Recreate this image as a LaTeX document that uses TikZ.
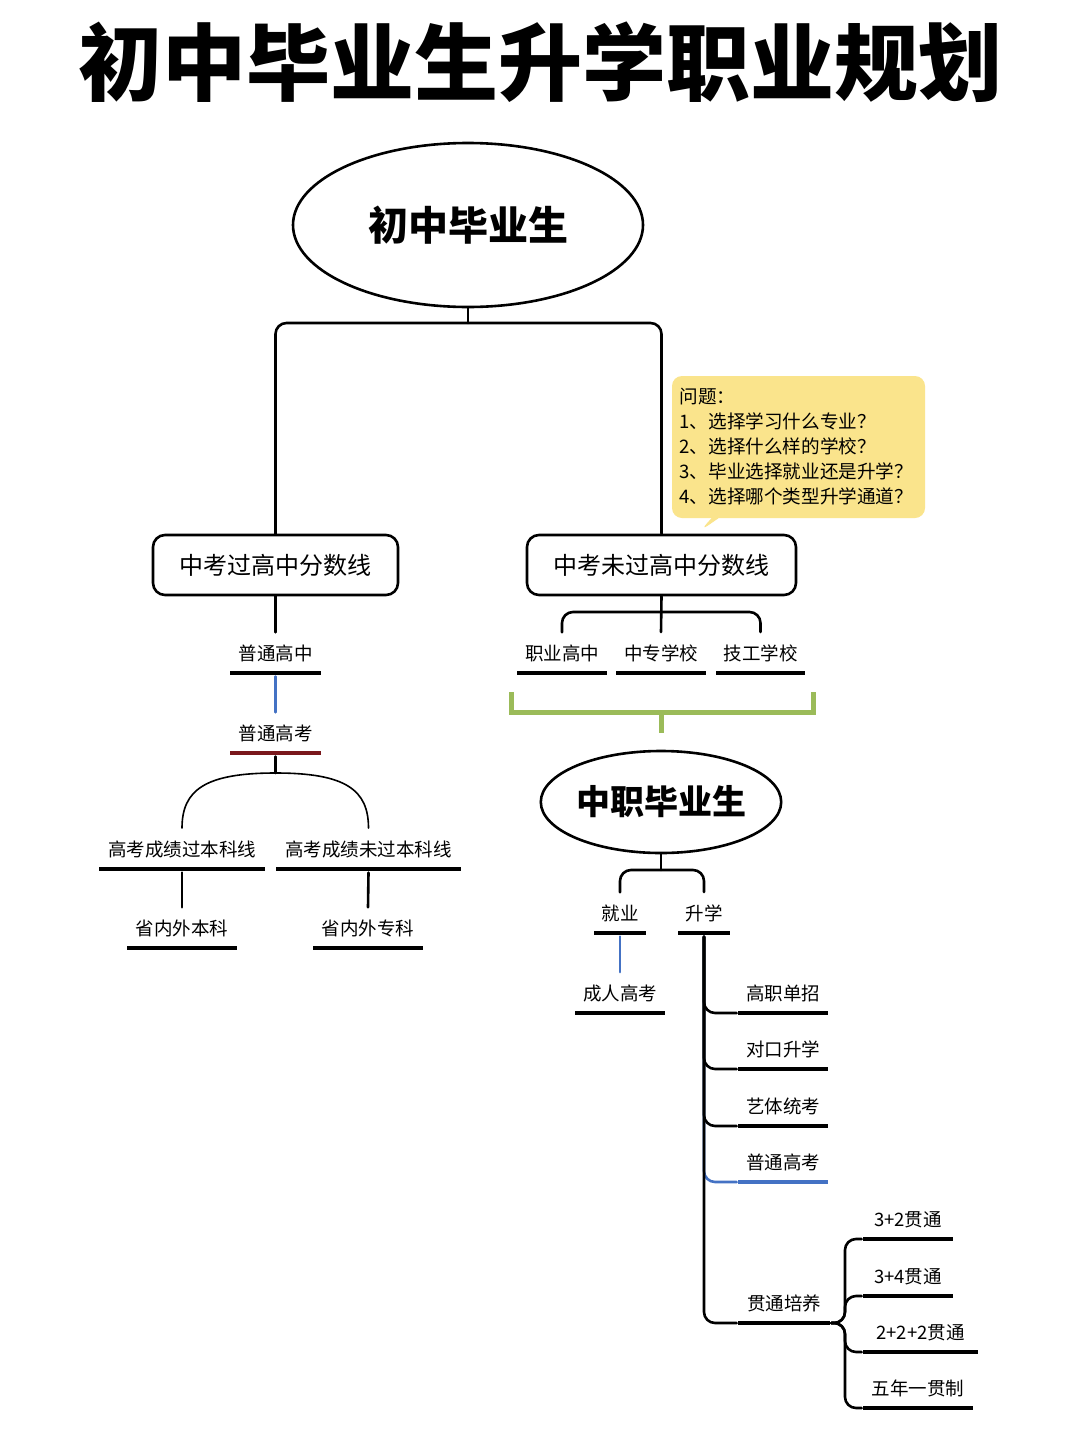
\documentclass[tikz,border=0pt]{standalone}
\usepackage{fontspec}
\setmainfont{Noto Sans CJK SC}
\usetikzlibrary{shapes.geometric,shapes.callouts}
\definecolor{lnblue}{RGB}{68,114,196}
\definecolor{lnred}{RGB}{122,24,28}
\definecolor{lngreen}{RGB}{155,187,89}
\definecolor{tipyellow}{RGB}{250,228,140}

\begin{document}
\begin{tikzpicture}[x=1pt,y=-1pt,line width=2.6pt,line cap=round]
\tikzstyle{bar}=[fill=black,inner sep=0,minimum height=4.5pt]
\tikzstyle{lbl}=[font=\fontsize{18.5}{20}\selectfont,inner xsep=0,inner ysep=11pt,yshift=-4.5pt]
\tikzstyle{box}=[draw,rounded corners=12pt,minimum height=60pt,font=\fontsize{24}{26}\selectfont]
\tikzstyle{oval}=[draw,fill=white,ellipse,inner sep=0]
\tikzstyle{ln}=[rounded corners=11pt]
\fill[white] (0,0) rectangle (1080,1443);

\node[font=\fontsize{84}{90}\selectfont\bfseries] (title) at (540,62) {初中毕业生升学职业规划};

% top
\node[oval,minimum width=350pt,minimum height=164pt,font=\fontsize{40}{44}\selectfont\bfseries] (root) at (468,225) {初中毕业生};
\node[box,minimum width=245pt] (pass) at (275.5,565) {中考过高中分数线};
\node[box,minimum width=269pt] (fail) at (661.5,565) {中考未过高中分数线};
\node[rectangle callout,fill=tipyellow,rounded corners=10pt,minimum width=253pt,minimum height=142pt,
      text width=238pt,align=left,font=\fontsize{18.6}{25}\selectfont,
      callout absolute pointer={(700,531)}] (tip) at (798.5,447)
      {问题：\\1、选择学习什么专业？\\2、选择什么样的学校？\\3、毕业选择就业还是升学？\\4、选择哪个类型升学通道？};

% left branch
\node[bar,minimum width=91pt,label={[lbl,name=pt-t]above:普通高中}] (pt) at (275.5,673) {};
\node[bar,fill=lnred,minimum width=91pt,label={[lbl,name=pg-t]above:普通高考}] (pg) at (275.5,753) {};
\node[bar,minimum width=166pt,label={[lbl,name=gk1-t]above:高考成绩过本科线}] (gk1) at (182,869) {};
\node[bar,minimum width=185pt,label={[lbl,name=gk2-t]above:高考成绩未过本科线}] (gk2) at (368.5,869) {};
\node[bar,minimum width=110pt,label={[lbl,name=bk-t]above:省内外本科}] (bk) at (182,948) {};
\node[bar,minimum width=110pt,label={[lbl,name=zk-t]above:省内外专科}] (zk) at (368,948) {};

% right branch
\node[bar,minimum width=90pt,label={[lbl,name=zg-t]above:职业高中}] (zg) at (562,673) {};
\node[bar,minimum width=90pt,label={[lbl,name=zx-t]above:中专学校}] (zx) at (661,673) {};
\node[bar,minimum width=89pt,label={[lbl,name=jg-t]above:技工学校}] (jg) at (760.5,673) {};
\node[oval,minimum width=238pt,minimum height=102pt,font=\fontsize{34}{38}\selectfont\bfseries] (zz) at (661,802) {中职毕业生};
\node[bar,minimum width=52pt,label={[lbl,name=jy-t]above:就业}] (jy) at (620,933) {};
\node[bar,minimum width=52pt,label={[lbl,name=sx-t]above:升学}] (sx) at (704,933) {};
\node[bar,minimum width=90pt,label={[lbl,name=cr-t]above:成人高考}] (cr) at (620,1013) {};
\node[bar,minimum width=90pt,label={[lbl,name=gd-t]above:高职单招}] (gd) at (783,1013) {};
\node[bar,minimum width=90pt,label={[lbl,name=dk-t]above:对口升学}] (dk) at (783,1069) {};
\node[bar,minimum width=90pt,label={[lbl,name=yt-t]above:艺体统考}] (yt) at (783,1126) {};
\node[bar,fill=lnblue,minimum width=90pt,label={[lbl,name=pg2-t]above:普通高考}] (pg2) at (783,1182) {};
\node[bar,minimum width=92pt,label={[lbl,name=gt-t]above:贯通培养}] (gt) at (784,1323) {};
\node[bar,minimum width=90pt,label={[lbl,name=g32-t]above:3+2贯通}] (g32) at (908,1239) {};
\node[bar,minimum width=90pt,label={[lbl,name=g34-t]above:3+4贯通}] (g34) at (908,1296) {};
\node[bar,minimum width=115pt,label={[lbl,name=g222-t]above:2+2+2贯通}] (g222) at (920.5,1352) {};
\node[bar,minimum width=110pt,label={[lbl,name=g5-t]above:五年一贯制}] (g5) at (918,1408) {};

\coordinate (j1) at (468,323);
\coordinate (j2) at (661,612);
\coordinate (j3) at (661,870);
\coordinate (j4) at (275.5,773);
\coordinate (j5) at (845,1323);
\coordinate (gl) at (511,692);
\coordinate (gr) at (813,692);
\coordinate (gm) at (661,712);
\coordinate (gs) at (661,733);

\draw (root) -- (j1);
\draw[ln] (pass.north) |- (j1) -| (fail.north);
\draw (pass.south) -- (pt-t.north);
\draw[lnblue] (pt.south) -- (pg-t.north);
\draw (pg.south) -- (j4);
\draw[line width=1.6pt] (j4) .. controls (205,773) and (182,790) .. (gk1-t.north);
\draw[line width=1.6pt] (j4) .. controls (346,773) and (368.5,790) .. (gk2-t.north);
\draw (gk1.south) -- (bk-t.north);
\draw (gk2.south) -- (zk-t.north);

\draw (fail.south) -- (zx-t.north);
\draw[ln] (zg-t.north) |- (j2) -| (jg-t.north);
\draw[lngreen,line width=5pt,line cap=butt] (gl) |- (gm) -| (gr);
\draw[lngreen,line width=5pt,line cap=butt] (gm) -- (gs);
\draw (zz) -- (j3);
\draw[ln] (jy-t.north) |- (j3) -| (sx-t.north);
\draw[lnblue] (jy.south) -- (cr-t.north);
\draw[ln,lnblue] (sx.south) |- (pg2.west);
\draw[ln] (sx.south) |- (gd.west);
\draw[ln] (sx.south) |- (dk.west);
\draw[ln] (sx.south) |- (yt.west);
\draw[ln] (sx.south) |- (gt.west);
\draw[ln] (gt.east) -- (j5) |- (g32.west);
\draw[ln] (gt.east) -- (j5) |- (g34.west);
\draw[ln] (gt.east) -- (j5) |- (g222.west);
\draw[ln] (gt.east) -- (j5) |- (g5.west);
\end{tikzpicture}
\end{document}
